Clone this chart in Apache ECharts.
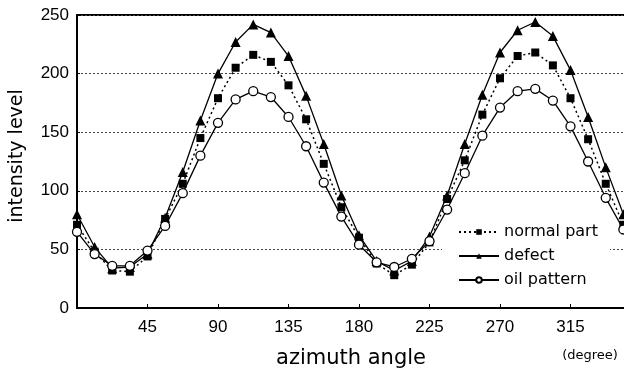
<!DOCTYPE html>
<html>
<head>
<meta charset="utf-8">
<script src="https://cdn.jsdelivr.net/npm/echarts@6/dist/echarts.min.js"></script>
<style>
html,body{margin:0;padding:0;background:#fff;overflow:hidden;}
#c{width:624px;height:374px;}
</style>
</head>
<body>
<div id="c"></div>
<script>
// azimuth angle (degree), sampled every 11.25 degrees
const angles = [0, 11.25, 22.5, 33.75, 45, 56.25, 67.5, 78.75, 90, 101.25, 112.5, 123.75, 135, 146.25, 157.5, 168.75, 180, 191.25, 202.5, 213.75, 225, 236.25, 247.5, 258.75, 270, 281.25, 292.5, 303.75, 315, 326.25, 337.5, 348.75];
const normalPart = [71, 48, 32, 31, 44, 76, 106, 145, 179, 205, 216, 210, 190, 161, 123, 86, 60, 38, 28, 37, 56, 93, 126, 165, 196, 215, 218, 207, 179, 144, 106, 71];
const defect = [80, 52, 34, 35, 46, 77, 116, 160, 200, 227, 242, 235, 215, 181, 140, 96, 62, 40, 32, 40, 61, 96, 140, 182, 218, 237, 244, 232, 203, 163, 120, 80];
const oilPattern = [65, 46, 36, 36, 49, 70, 98, 130, 158, 178, 185, 180, 163, 138, 107, 78, 54, 39, 35, 42, 57, 84, 115, 147, 171, 185, 187, 177, 155, 125, 94, 67];
const xTicks = [45, 90, 135, 180, 225, 270, 315];
const yTicks = [0, 50, 100, 150, 200, 250];

const pair = arr => angles.map((a, i) => [a, arr[i]]);
const numFont = 'Liberation Sans';
const txtFont = 'DejaVu Sans';

const chart = echarts.init(document.getElementById('c'), null, {renderer: 'canvas'});
chart.setOption({
  backgroundColor: '#fff',
  animation: false,
  grid: {left: 77, top: 15, width: 564, height: 293, outerBoundsMode: 'none', containLabel: false, show: true, borderColor: '#000', borderWidth: 2, backgroundColor: 'transparent'},
  xAxis: {
    type: 'value', min: 0, max: 360, interval: 45,
    axisLine: {show: true, lineStyle: {color: '#000', width: 2}},
    axisTick: {show: true, inside: true, length: 4, lineStyle: {color: '#000'}},
    axisLabel: {
      color: '#000', fontFamily: numFont, fontSize: 17, margin: 11,
      formatter: v => xTicks.indexOf(v) >= 0 ? String(v) : ''
    },
    splitLine: {show: false}
  },
  yAxis: {
    type: 'value', min: 0, max: 250, interval: 50,
    axisLine: {show: true, lineStyle: {color: '#000', width: 2}},
    axisTick: {show: true, inside: true, length: 3, lineStyle: {color: '#000'}},
    axisLabel: {
      color: '#000', fontFamily: numFont, fontSize: 17, margin: 8,
      formatter: v => yTicks.indexOf(v) >= 0 ? String(v) : ''
    },
    splitLine: {show: true, lineStyle: {color: '#444', width: 1, type: [2, 2]}}
  },
  legend: {
    orient: 'vertical', left: 442, top: 222,
    backgroundColor: '#fff',
    padding: [2, 12, 6, 16],
    itemWidth: 40, itemHeight: 7, itemGap: 8,
    textStyle: {color: '#000', fontFamily: txtFont, fontSize: 16},
    data: ['normal part', 'defect', 'oil pattern']
  },
  graphic: [
    {type: 'text', rotation: Math.PI / 2, position: [17, 156], style: {text: 'intensity level', x: 0, y: 0, fill: '#000', font: '19px "DejaVu Sans"', textAlign: 'center', textVerticalAlign: 'middle'}},
    {type: 'text', style: {text: 'azimuth angle', x: 351, y: 359, fill: '#000', font: '21px "DejaVu Sans"', textAlign: 'center', textVerticalAlign: 'middle'}},
    {type: 'text', style: {text: '(degree)', x: 590, y: 356, fill: '#000', font: '13px "DejaVu Sans"', textAlign: 'center', textVerticalAlign: 'middle'}}
  ],
  series: [
    {
      name: 'normal part', type: 'line', data: pair(normalPart),
      symbol: 'rect', symbolSize: 8,
      itemStyle: {color: '#000'},
      lineStyle: {color: '#000', width: 1.5, type: [2, 3]}
    },
    {
      name: 'defect', type: 'line', data: pair(defect),
      symbol: 'triangle', symbolSize: 10,
      itemStyle: {color: '#000'},
      lineStyle: {color: '#000', width: 1.3}
    },
    {
      name: 'oil pattern', type: 'line', data: pair(oilPattern),
      symbol: 'circle', symbolSize: 9,
      itemStyle: {color: '#fff', borderColor: '#000', borderWidth: 1.3},
      lineStyle: {color: '#000', width: 1.3}
    }
  ]
});
</script>
</body>
</html>
